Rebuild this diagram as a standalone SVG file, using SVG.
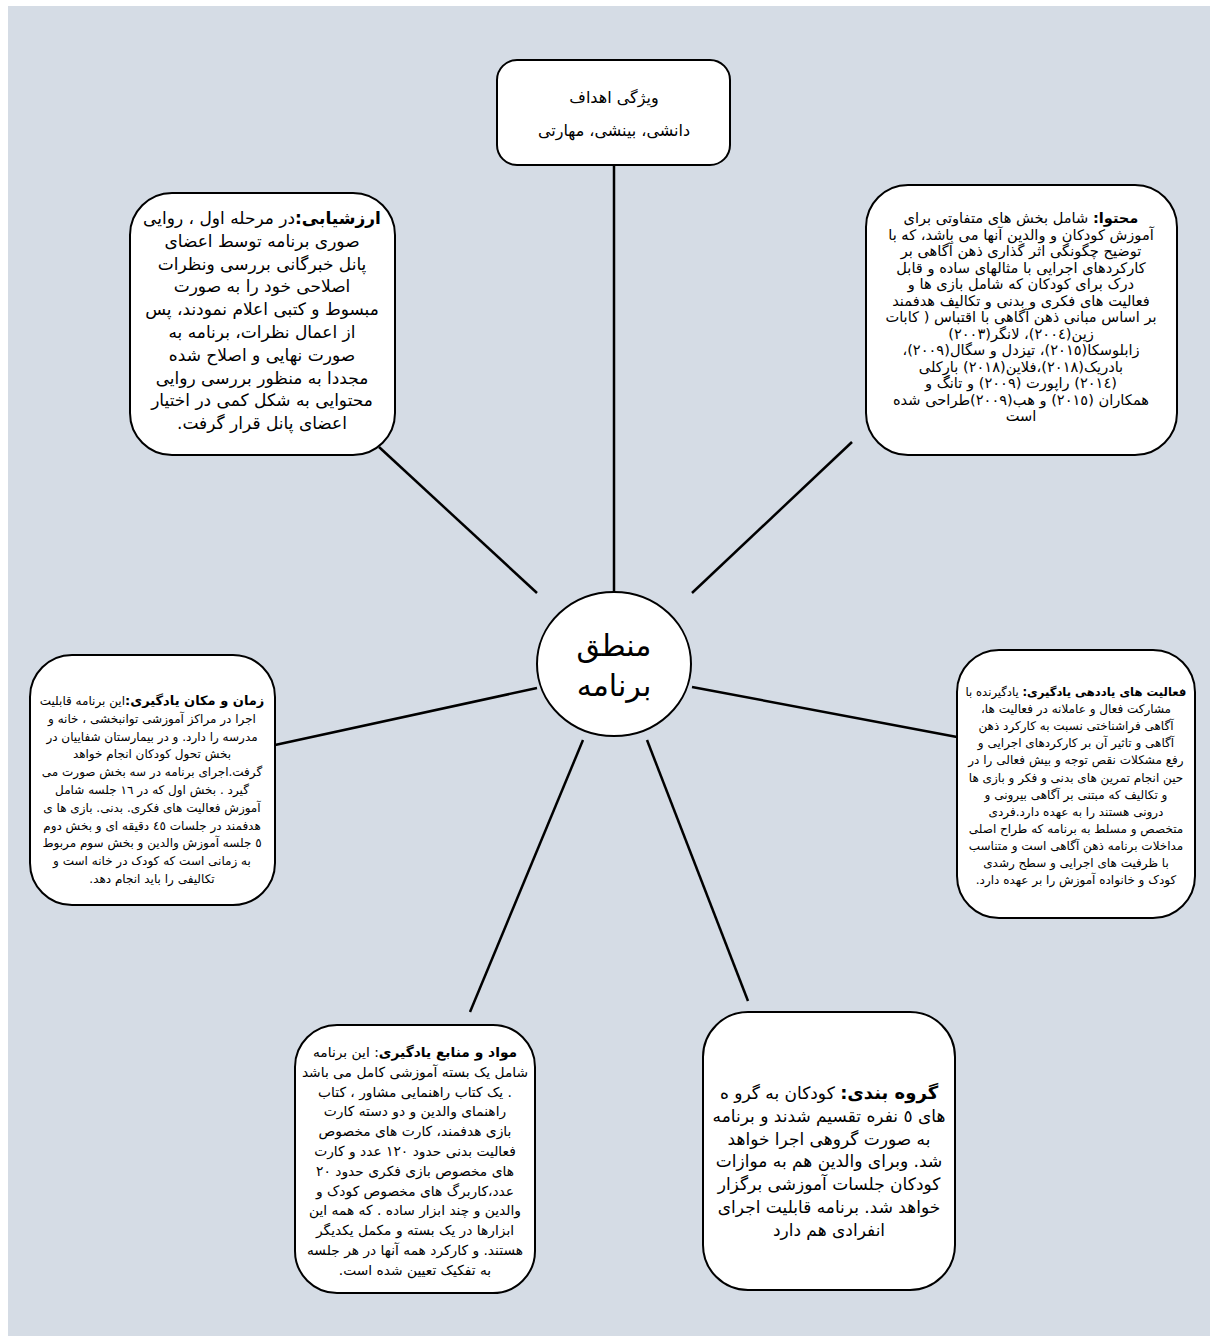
<svg xmlns="http://www.w3.org/2000/svg" width="1218" height="1344" viewBox="0 0 1218 1344">
<style>
.bg{fill:#d5dce5}
.box{fill:#ffffff;stroke:#000000;stroke-width:2}
.conn line{stroke:#000000;stroke-width:2.5}
text{font-family:"DejaVu Sans",sans-serif;fill:#000000;text-anchor:middle;direction:rtl}
.t15{font-size:16px}
.t17{font-size:17px}
.tg{font-size:17px}
.t13{font-size:12px}
.tc{font-size:14.6px}
.t14{font-size:13.8px}
.b{font-weight:bold}
.center{font-size:30px}
</style>
<rect class="bg" x="8" y="6" width="1202" height="1330"/>
<g id="connectors" class="conn">
<line x1="614" y1="165" x2="614" y2="592"/>
<line x1="379" y1="447" x2="537" y2="593"/>
<line x1="852" y1="442" x2="692" y2="593"/>
<line x1="275" y1="745" x2="537" y2="688"/>
<line x1="957" y1="737" x2="692" y2="687"/>
<line x1="583" y1="740" x2="470" y2="1012"/>
<line x1="647" y1="740" x2="748" y2="1001"/>
</g>
<g id="node-goals">
<rect class="box" x="497" y="60" width="233" height="105" rx="20"/>
<text class="t15" x="614" y="103">ویژگی اهداف</text>
<text class="t15" x="614" y="136">دانشی، بینشی، مهارتی</text>
</g>
<g id="node-center">
<ellipse class="box" cx="614" cy="664" rx="77" ry="72"/>
<text class="center" x="614" y="656">منطق</text>
<text class="center" x="614" y="696">برنامه</text>
</g>
<g id="node-evaluation">
<rect class="box" x="130" y="193" width="265" height="262" rx="42"/>
<text class="t17" x="262" y="224"><tspan class="b">ارزشیابی:</tspan>در مرحله اول ، روایی</text>
<text class="t17" x="262" y="246.8">صوری برنامه توسط اعضای</text>
<text class="t17" x="262" y="269.6">پانل خبرگانی بررسی ونظرات</text>
<text class="t17" x="262" y="292.4">اصلاحی خود را به صورت</text>
<text class="t17" x="262" y="315.2">مبسوط و کتبی اعلام نمودند، پس</text>
<text class="t17" x="262" y="338">از اعمال نظرات، برنامه به</text>
<text class="t17" x="262" y="360.8">صورت نهایی و اصلاح شده</text>
<text class="t17" x="262" y="383.6">مجددا به منظور بررسی روایی</text>
<text class="t17" x="262" y="406.4">محتوایی به شکل کمی در اختیار</text>
<text class="t17" x="262" y="429.2">اعضای پانل قرار گرفت.</text>
</g>
<g id="node-content">
<rect class="box" x="866" y="185" width="311" height="270" rx="42"/>
<text class="tc" x="1021" y="223"><tspan class="b">محتوا:</tspan> شامل بخش های متفاوتی برای</text>
<text class="tc" x="1021" y="239.5">آموزش کودکان و والدین آنها می باشد، که با</text>
<text class="tc" x="1021" y="256">توضیح چگونگی اثر گذاری ذهن آگاهی بر</text>
<text class="tc" x="1021" y="272.5">کارکردهای اجرایی با مثالهای ساده و قابل</text>
<text class="tc" x="1021" y="289">درک برای کودکان که شامل بازی ها و</text>
<text class="tc" x="1021" y="305.5">فعالیت های فکری و بدنی و تکالیف هدفمند</text>
<text class="tc" x="1021" y="322">بر اساس مبانی ذهن آگاهی با اقتباس ( کابات</text>
<text class="tc" x="1021" y="338.5">زین(٢٠٠٤)، لانگر(٢٠٠٣)</text>
<text class="tc" x="1021" y="355">زابلوسکا(٢٠١٥)، تیزدل و سگال(٢٠٠٩)،</text>
<text class="tc" x="1021" y="371.5">بادریک(٢٠١٨)،فلاین(٢٠١٨) بارکلی</text>
<text class="tc" x="1021" y="388">(٢٠١٤) راپورت (٢٠٠٩) و تانگ و</text>
<text class="tc" x="1021" y="404.5">همکاران (٢٠١٥) و هب(٢٠٠٩)طراحی شده</text>
<text class="tc" x="1021" y="421">است</text>
</g>
<g id="node-time-place">
<rect class="box" x="30" y="655" width="245" height="250" rx="42"/>
<text class="t13" x="152" y="705"><tspan class="b" style="font-size:13px">زمان و مکان یادگیری:</tspan>این برنامه قابلیت</text>
<text class="t13" x="152" y="722.8">اجرا در مراکز آموزشی توانبخشی ، خانه و</text>
<text class="t13" x="152" y="740.6">مدرسه را دارد. و در بیمارستان شفاییان در</text>
<text class="t13" x="152" y="758.4">بخش تحول کودکان انجام خواهد</text>
<text class="t13" x="152" y="776.2">گرفت.اجرای برنامه در سه بخش صورت می</text>
<text class="t13" x="152" y="794">گیرد . بخش اول که در ١٦ جلسه شامل</text>
<text class="t13" x="152" y="811.8">آموزش فعالیت های فکری. بدنی. بازی ها ی</text>
<text class="t13" x="152" y="829.6">هدفمند در جلسات ٤٥ دقیقه ای و بخش دوم</text>
<text class="t13" x="152" y="847.4">٥ جلسه آموزش والدین و بخش سوم مربوط</text>
<text class="t13" x="152" y="865.2">به زمانی است که کودک در خانه است و</text>
<text class="t13" x="152" y="883">تکالیفی را باید انجام دهد.</text>
</g>
<g id="node-activities">
<rect class="box" x="957" y="650" width="238" height="268" rx="42"/>
<text class="t13" x="1076" y="696" style="font-size:11.6px"><tspan class="b">فعالیت های یاددهی یادگیری:</tspan> یادگیرنده با</text>
<text class="t13" x="1076" y="713.1">مشارکت فعال و عاملانه در فعالیت ها،</text>
<text class="t13" x="1076" y="730.2">آگاهی فراشناختی نسبت به کارکرد ذهن</text>
<text class="t13" x="1076" y="747.3">آگاهی و تاثیر آن بر کارکردهای اجرایی و</text>
<text class="t13" x="1076" y="764.4">رفع مشکلات نقص توجه و بیش فعالی را در</text>
<text class="t13" x="1076" y="781.5">حین انجام تمرین های بدنی و فکر و بازی ها</text>
<text class="t13" x="1076" y="798.6">و تکالیف که مبتنی بر آگاهی بیرونی و</text>
<text class="t13" x="1076" y="815.7">درونی هستند را به عهده دارد.فردی</text>
<text class="t13" x="1076" y="832.8">متخصص و مسلط به برنامه که طراح اصلی</text>
<text class="t13" x="1076" y="849.9">مداخلات برنامه ذهن آگاهی است و متناسب</text>
<text class="t13" x="1076" y="867">با ظرفیت های اجرایی و سطح رشدی</text>
<text class="t13" x="1076" y="884.1">کودک و خانواده آموزش را بر عهده دارد.</text>
</g>
<g id="node-materials">
<rect class="box" x="295" y="1025" width="240" height="268" rx="42"/>
<text class="t14" x="415" y="1057"><tspan class="b">مواد و منابع یادگیری</tspan>: این برنامه</text>
<text class="t14" x="415" y="1076.8">شامل یک بسته آموزشی کامل می باشد</text>
<text class="t14" x="415" y="1096.6">. یک کتاب راهنمایی مشاور ، کتاب</text>
<text class="t14" x="415" y="1116.4">راهنمای والدین و دو دسته کارت</text>
<text class="t14" x="415" y="1136.2">بازی هدفمند، کارت های مخصوص</text>
<text class="t14" x="415" y="1156">فعالیت بدنی حدود ١٢٠ عدد و کارت</text>
<text class="t14" x="415" y="1175.8">های مخصوص بازی فکری حدود ٢٠</text>
<text class="t14" x="415" y="1195.6">عدد،کاربرگ های مخصوص کودک و</text>
<text class="t14" x="415" y="1215.4">والدین و چند ابزار ساده . که همه این</text>
<text class="t14" x="415" y="1235.2">ابزارها در یک بسته و مکمل یکدیگر</text>
<text class="t14" x="415" y="1255">هستند. و کارکرد همه آنها در هر جلسه</text>
<text class="t14" x="415" y="1274.8">به تفکیک تعیین شده است.</text>
</g>
<g id="node-grouping">
<rect class="box" x="703" y="1012" width="252" height="278" rx="45"/>
<text class="tg" x="829" y="1099"><tspan class="b" style="font-size:18px">گروه بندی:</tspan> کودکان به گرو ه</text>
<text class="tg" x="829" y="1121.8">های ٥ نفره تقسیم شدند و برنامه</text>
<text class="tg" x="829" y="1144.6">به صورت گروهی اجرا خواهد</text>
<text class="tg" x="829" y="1167.4">شد. وبرای والدین هم به موازات</text>
<text class="tg" x="829" y="1190.2">کودکان جلسات آموزشی برگزار</text>
<text class="tg" x="829" y="1213">خواهد شد. برنامه قابلیت اجرای</text>
<text class="tg" x="829" y="1235.8">انفرادی هم دارد</text>
</g>
</svg>
